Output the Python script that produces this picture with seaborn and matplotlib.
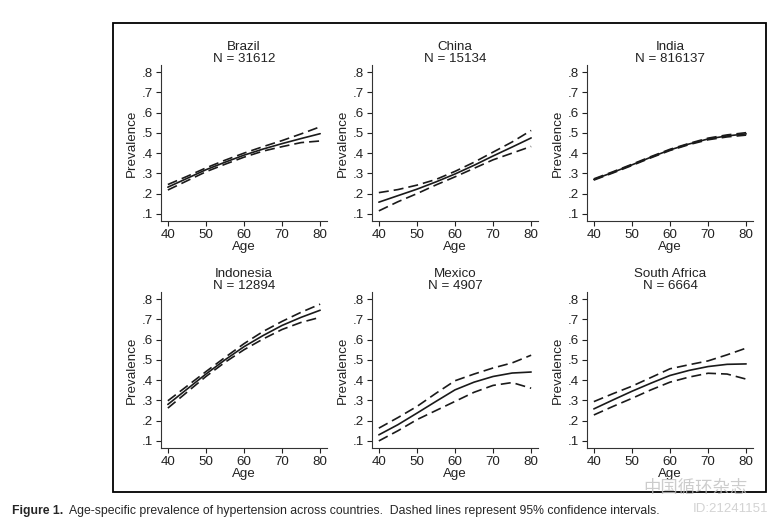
import matplotlib
matplotlib.use("Agg")
import matplotlib.pyplot as plt
import matplotlib.patches as patches
import seaborn as sns
import pandas as pd

ages = [40, 45, 50, 55, 60, 65, 70, 75, 80]

countries = ["Brazil", "China", "India", "Indonesia", "Mexico", "South Africa"]
sample_n = [31612, 15134, 816137, 12894, 4907, 6664]

brazil_mean = [.232, .275, .318, .355, .390, .420, .447, .472, .496]
brazil_upper = [.245, .285, .327, .365, .400, .432, .462, .495, .530]
brazil_lower = [.218, .263, .308, .345, .380, .410, .432, .452, .460]

china_mean = [.158, .190, .222, .258, .297, .340, .386, .430, .475]
china_upper = [.205, .220, .242, .270, .310, .355, .405, .455, .512]
china_lower = [.115, .160, .200, .243, .283, .325, .367, .400, .433]

india_mean = [.270, .305, .342, .380, .416, .445, .470, .485, .495]
india_upper = [.273, .308, .345, .383, .419, .448, .474, .490, .501]
india_lower = [.267, .302, .339, .377, .413, .442, .466, .480, .489]

indonesia_mean = [.280, .355, .430, .500, .565, .620, .670, .710, .745]
indonesia_upper = [.298, .370, .442, .512, .580, .640, .690, .735, .775]
indonesia_lower = [.262, .340, .418, .488, .550, .603, .650, .685, .710]

mexico_mean = [.130, .180, .237, .295, .352, .390, .418, .435, .440]
mexico_upper = [.163, .215, .270, .335, .397, .430, .460, .485, .523]
mexico_lower = [.100, .150, .205, .250, .295, .340, .374, .388, .360]

safrica_mean = [.258, .302, .345, .385, .423, .448, .467, .478, .480]
safrica_upper = [.294, .333, .370, .413, .456, .476, .495, .525, .558]
safrica_lower = [.228, .270, .310, .352, .390, .415, .434, .430, .405]

means = [brazil_mean, china_mean, india_mean, indonesia_mean, mexico_mean, safrica_mean]
uppers = [brazil_upper, china_upper, india_upper, indonesia_upper, mexico_upper, safrica_upper]
lowers = [brazil_lower, china_lower, india_lower, indonesia_lower, mexico_lower, safrica_lower]

y_ticks = [.1, .2, .3, .4, .5, .6, .7, .8]
y_ticklabels = [".1", ".2", ".3", ".4", ".5", ".6", ".7", ".8"]
x_ticks = [40, 50, 60, 70, 80]

sns.set_style("ticks")
plt.rcParams["font.family"] = ["Liberation Sans", "DejaVu Sans"]

W, H = 774, 523
fig = plt.figure(figsize=(W / 100, H / 100), dpi=100)

# axes placement in pixels (left, top of plot area)
lefts = [161, 372, 587]
tops = [65, 292]
aw, ah = 166, 156

line_color = "#1a1a1a"
text_color = "#222222"
fs = 9.6

for i, country in enumerate(countries):
    r, c = divmod(i, 3)
    ax = fig.add_axes([lefts[c] / W, 1 - (tops[r] + ah) / H, aw / W, ah / H])
    df = pd.DataFrame({"age": ages, "mean": means[i],
                       "upper": uppers[i], "lower": lowers[i]})
    sns.lineplot(data=df, x="age", y="mean", ax=ax, color=line_color, lw=1.2)
    sns.lineplot(data=df, x="age", y="upper", ax=ax, color=line_color, lw=1.2,
                 linestyle=(0, (6, 3)))
    sns.lineplot(data=df, x="age", y="lower", ax=ax, color=line_color, lw=1.2,
                 linestyle=(0, (6, 3)))

    ax.set_xlim(38.2, 81.8)
    ax.set_ylim(0.065, 0.835)
    ax.set_xticks(x_ticks)
    ax.set_yticks(y_ticks)
    ax.set_yticklabels(y_ticklabels)
    ax.tick_params(labelsize=fs, length=3.5, width=0.8, pad=2, colors=text_color)
    ax.set_xlabel("Age", fontsize=fs, labelpad=0, color=text_color)
    ax.set_ylabel("Prevalence", fontsize=fs, labelpad=3, color=text_color)
    ax.set_title(f"{country}\nN = {sample_n[i]}", fontsize=fs, pad=2,
                 linespacing=0.95, color=text_color)
    sns.despine(ax=ax)
    for s in ["left", "bottom"]:
        ax.spines[s].set_linewidth(0.8)
        ax.spines[s].set_color("#333333")

# frame round the panels
box = patches.Rectangle((113 / W, 1 - 492 / H), (766 - 113) / W, (492 - 23) / H,
                        transform=fig.transFigure, fill=False,
                        edgecolor="black", lw=1.3)
fig.patches.append(box)

# caption
fig.text(12 / W, 1 - 511 / H, "Figure 1.", fontsize=8.8, fontweight="bold",
         va="center", ha="left")
fig.text(69 / W, 1 - 511 / H,
         "Age-specific prevalence of hypertension across countries.  "
         "Dashed lines represent 95% confidence intervals.",
         fontsize=8.8, va="center", ha="left")

# faint watermark
fig.text(748 / W, 1 - 488 / H, "中国循环杂志", fontsize=12.5,
         family=["Noto Sans CJK SC", "DejaVu Sans"], color="#c0c0c0",
         ha="right", va="center", alpha=0.8)
fig.text(768 / W, 1 - 509 / H, "ID:21241151", fontsize=9.5,
         color="#c8c8c8", ha="right", va="center", alpha=0.8)

fig.savefig("out.png", dpi=100)
